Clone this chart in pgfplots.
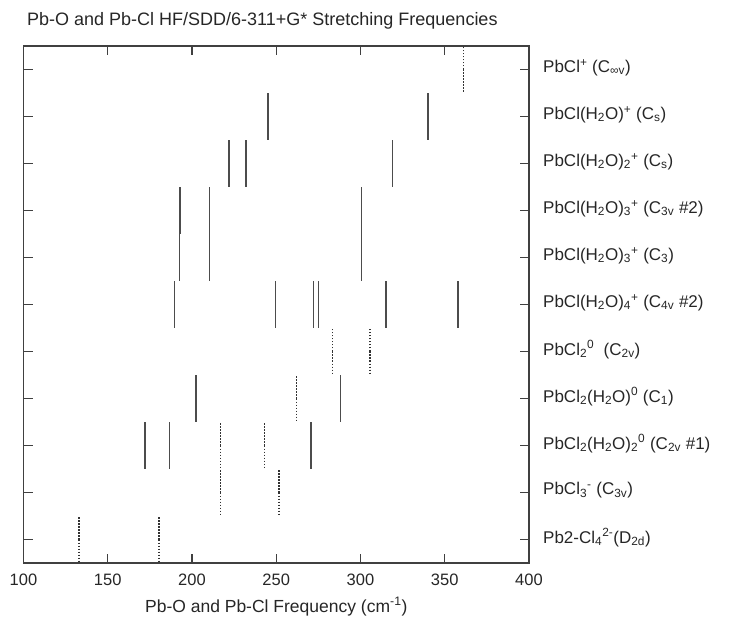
\documentclass[border=0pt]{standalone}
\usepackage{fontspec}
\setmainfont{Liberation Sans}
\usepackage{pgfplots}
\pgfplotsset{compat=1.18}
\usepackage{pgfplotstable}

\pgfplotstableread{
x y
245 10
340 10
222 9
232 9
319 9
193 8
210.5 8
300.5 8
192.5 7
210.5 7
300.5 7
189.5 6
249.5 6
272 6
275 6
315 6
358 6
202.5 4
288 4
172 3
186.5 3
270.5 3
}\solidtab

\pgfplotstableread{
x y
361 11
283.5 5
305.5 5
262 4
217 3
243 3
217 2
251.5 2
133 1
180.5 1
}\dottedtab

\newcommand{\lo}[1]{\textsubscript{#1}}
\newcommand{\hi}[1]{\textsuperscript{#1}}

\begin{document}
\begin{tikzpicture}
\begin{axis}[
  at={(0,0)}, anchor=south west,
  scale only axis, width=505.5pt, height=517pt,
  xmin=100, xmax=400, ymin=0.5, ymax=11.5,
  xtick={100,150,...,400},
  ytick={1,...,11},
  yticklabel pos=right,
  yticklabels={
    {Pb2-Cl\lo{4}\hi{2-}(D\lo{2d})},
    {PbCl\lo{3}\hi{-} (C\lo{3v})},
    {PbCl\lo{2}(H\lo{2}O)\lo{2}\hi{0} (C\lo{2v} \#1)},
    {PbCl\lo{2}(H\lo{2}O)\hi{0} (C\lo{1})},
    {PbCl\lo{2}\hi{0}\ \ (C\lo{2v})},
    {PbCl(H\lo{2}O)\lo{4}\hi{+} (C\lo{4v} \#2)},
    {PbCl(H\lo{2}O)\lo{3}\hi{+} (C\lo{3})},
    {PbCl(H\lo{2}O)\lo{3}\hi{+} (C\lo{3v} \#2)},
    {PbCl(H\lo{2}O)\lo{2}\hi{+} (C\lo{s})},
    {PbCl(H\lo{2}O)\hi{+} (C\lo{s})},
    {PbCl\hi{+} (C\lo{∞v})}
  },
  /pgf/number format/assume math mode=true,
  yticklabel style={anchor=west, inner sep=0pt, xshift=14pt, yshift=2pt, font=\fontsize{17}{20}\selectfont, text=black!85},
  xticklabel style={anchor=base, inner sep=0pt, yshift=-22pt, font=\fontsize{16.5}{19}\selectfont, text=black!85},
  major tick length=9pt,
  tick style={line width=1.2pt, draw=black!75},
  axis line style={line width=1.3pt, draw=black!75},
  xlabel={Pb-O and Pb-Cl Frequency (cm\hi{-1})},
  xlabel style={at={(axis description cs:0.5,0)}, anchor=base, yshift=-49pt, inner sep=0pt, font=\fontsize{17.5}{20}\selectfont, text=black!85},
  title={Pb-O and Pb-Cl HF/SDD/6-311+G* Stretching Frequencies},
  title style={at={(axis description cs:0,1)}, anchor=base west, xshift=3.5pt, yshift=14pt, inner sep=0pt, font=\fontsize{18}{21}\selectfont, text=black!85},
  clip=false,
]
\addplot[draw=none, mark=none,
  error bars/.cd, y dir=both, y fixed=0.5, error mark=none,
  error bar style={line width=1.5pt, solid, draw=black!70}]
  table[x=x, y=y] {\solidtab};
\addplot[draw=none, mark=none,
  error bars/.cd, y dir=both, y fixed=0.5, error mark=none,
  error bar style={line width=1.5pt, dash pattern=on 1.3pt off 1.7pt, draw=black!80}]
  table[x=x, y=y] {\dottedtab};
\end{axis}
\draw[line width=1.3pt, black!75] (0pt,0pt) rectangle (505.5pt,517pt);
\pgfresetboundingbox
\path[use as bounding box] (-23.5pt,-53pt) rectangle (712.5pt,563pt);
\end{tikzpicture}
\end{document}
